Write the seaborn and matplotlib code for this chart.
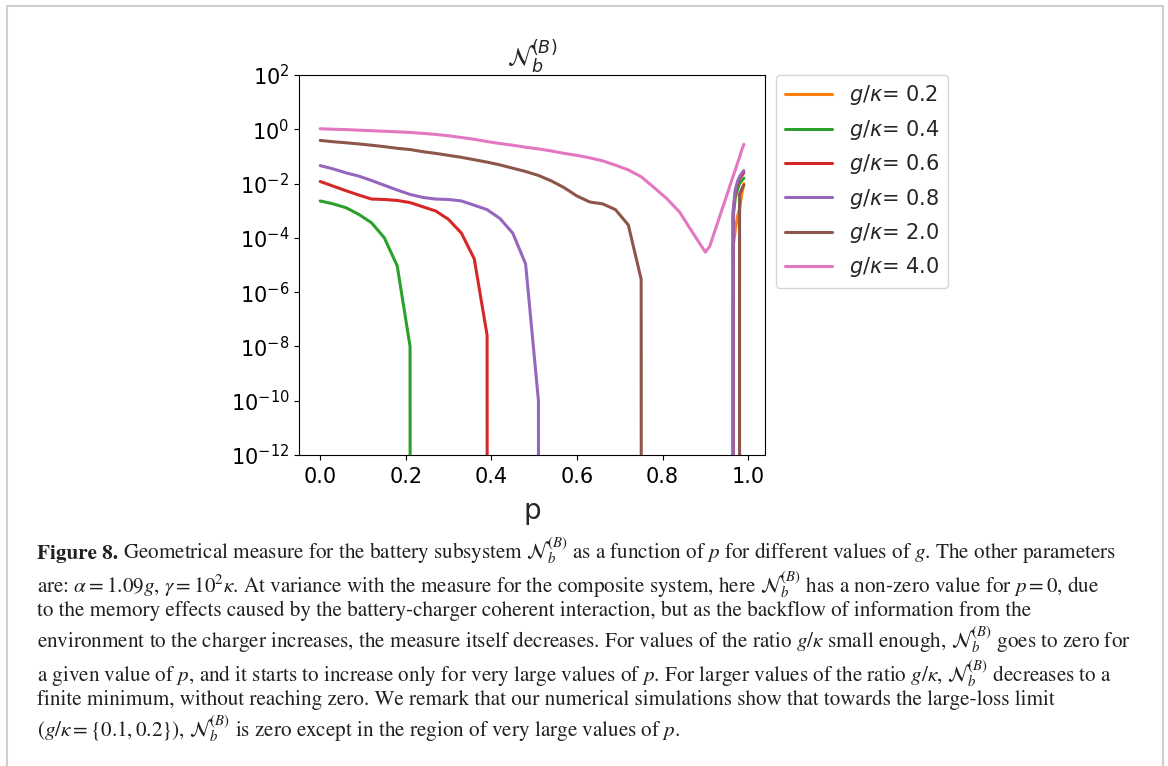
import numpy as np
import pandas as pd
import matplotlib
matplotlib.use("Agg")
import matplotlib.pyplot as plt
import matplotlib.patches as mpatches
from matplotlib.ticker import NullLocator
import seaborn as sns

# p grid (coarse, then finer near p -> 1)
p = [0.00, 0.03, 0.06, 0.09, 0.12, 0.15, 0.18, 0.21, 0.24, 0.27,
     0.30, 0.33, 0.36, 0.39, 0.42, 0.45, 0.48, 0.51, 0.54, 0.57,
     0.60, 0.63, 0.66, 0.69, 0.72, 0.75, 0.78, 0.81, 0.84, 0.87,
     0.90, 0.91, 0.93, 0.96, 0.965, 0.97, 0.975, 0.98, 0.985, 0.99]

# N_b^(B) (0 = exactly zero)
N_g02 = [0] * 34 + [5e-5, 2e-4, 6e-4, 1.2e-3, 4e-3, 1.0e-2]
N_g04 = [2.3e-3, 1.8e-3, 1.3e-3, 7.4e-4, 3.6e-4, 1.0e-4, 9.3e-6, 1.0e-8] + [0] * 26 + \
        [6e-4, 3e-3, 6e-3, 1e-2, 1.3e-2, 1.6e-2]
N_g06 = [1.2e-2, 8.1e-3, 5.5e-3, 3.8e-3, 2.7e-3, 2.6e-3, 2.4e-3, 2.0e-3, 1.4e-3, 9.8e-4,
         4.8e-4, 1.5e-4, 1.7e-5, 2.6e-8] + [0] * 20 + \
        [1e-3, 5e-3, 1e-2, 1.6e-2, 2e-2, 2.5e-2]
N_g08 = [4.6e-2, 3.5e-2, 2.5e-2, 1.9e-2, 1.3e-2, 8.7e-3, 5.8e-3, 4.0e-3, 3.1e-3, 2.7e-3,
         2.6e-3, 2.3e-3, 1.6e-3, 1.1e-3, 5.2e-4, 1.5e-4, 1.1e-5, 1.0e-10] + [0] * 16 + \
        [8e-4, 5.8e-3, 1.2e-2, 1.8e-2, 2.4e-2, 3.0e-2]
N_g20 = [0.39, 0.35, 0.32, 0.29, 0.26, 0.23, 0.20, 0.18, 0.15, 0.13,
         0.11, 0.093, 0.076, 0.062, 0.049, 0.037, 0.028, 0.020, 0.0126, 0.0071,
         0.0035, 0.0021, 0.0018, 0.0011, 3.0e-4, 3.0e-6] + [0] * 11 + \
        [4e-3, 6.3e-3, 8.9e-3]
N_g40 = [1.05, 1.01, 0.98, 0.93, 0.89, 0.85, 0.81, 0.77, 0.71, 0.65,
         0.58, 0.50, 0.43, 0.355, 0.30, 0.26, 0.22, 0.19, 0.16, 0.13,
         0.11, 0.089, 0.069, 0.048, 0.032, 0.018, 7.2e-3, 2.8e-3, 8.9e-4, 1.6e-4,
         3.0e-5, 4.8e-5, 4.2e-4, 1.1e-2, 1.9e-2, 3.2e-2, 5.6e-2, 9.5e-2, 0.17, 0.28]

ratios = ["0.2", "0.4", "0.6", "0.8", "2.0", "4.0"]
series = [N_g02, N_g04, N_g06, N_g08, N_g20, N_g40]
colors = ["#ff7f0e", "#2ca02c", "#d62728", "#9467bd", "#8c564b", "#e377c2"]

rows = []
for r, vals in zip(ratios, series):
    for x, v in zip(p, vals):
        rows.append({"p": x, "N": v, "label": r"$g/\kappa$= " + r})
df = pd.DataFrame(rows)

sns.set_style("ticks", rc={"axes.edgecolor": "black", "xtick.color": "black",
                           "ytick.color": "black", "axes.linewidth": 1.3,
                           "xtick.major.width": 1.3, "ytick.major.width": 1.3})
plt.rcParams["font.family"] = ["DejaVu Sans"]

fig = plt.figure(figsize=(11.68, 7.66), dpi=100)
ax = fig.add_axes([0.256, 0.406, 0.399, 0.496])
ax.set_yscale("log")

sns.lineplot(data=df, x="p", y="N", hue="label", palette=colors,
             estimator=None, lw=2.2, ax=ax)

ax.set_ylim(1e-12, 1e2)
ax.set_yticks([1e-12, 1e-10, 1e-8, 1e-6, 1e-4, 1e-2, 1e0, 1e2])
ax.yaxis.set_minor_locator(NullLocator())
ax.set_xticks([0.0, 0.2, 0.4, 0.6, 0.8, 1.0])
ax.tick_params(labelsize=15)
ax.tick_params(axis="x", pad=5)
ax.set_xlabel("p", fontsize=20, labelpad=7)
ax.set_ylabel("")
ax.set_title(r"$\mathcal{N}_b^{(B)}$", fontsize=18, pad=7)

handles, labs = ax.get_legend_handles_labels()
ax.legend(handles, labs, loc="upper left", bbox_to_anchor=(1.024, 1.0),
          borderaxespad=0, fontsize=15, handlelength=2.3, title=None)

# figure frame
fig.patches.append(mpatches.Rectangle((7 / 1168, -0.05), 1156 / 1168, 1 - 6 / 766 + 0.05,
                                      transform=fig.transFigure, fill=False,
                                      edgecolor="#cfcfcf", lw=1.5))

# caption
cap = dict(family="STIXGeneral", math_fontfamily="stix", fontsize=15.2,
           color="#231f20", va="baseline")
cap_lines = [
    r"Geometrical measure for the battery subsystem $\mathcal{N}_b^{(B)}$ as a function of $p$ for different values of $g$. The other parameters",
    r"are: $\alpha = 1.09g$, $\gamma = 10^2\kappa$. At variance with the measure for the composite system, here $\mathcal{N}_b^{(B)}$ has a non-zero value for $p = 0$, due",
    r"to the memory effects caused by the battery-charger coherent interaction, but as the backflow of information from the",
    r"environment to the charger increases, the measure itself decreases. For values of the ratio $g/\kappa$ small enough, $\mathcal{N}_b^{(B)}$ goes to zero for",
    r"a given value of $p$, and it starts to increase only for very large values of $p$. For larger values of the ratio $g/\kappa$, $\mathcal{N}_b^{(B)}$ decreases to a",
    r"finite minimum, without reaching zero. We remark that our numerical simulations show that towards the large-loss limit",
    r"$(g/\kappa = \{0.1, 0.2\})$, $\mathcal{N}_b^{(B)}$ is zero except in the region of very large values of $p$.",
]
baselines = [559, 593, 616, 648, 682, 705, 737]
x0 = 37 / 1168
renderer = fig.canvas.get_renderer()
fig8 = fig.text(x0, 1 - baselines[0] / 766, "Figure 8.", weight="bold", **cap)
w = fig8.get_window_extent(renderer).width
for i, (line, yb) in enumerate(zip(cap_lines, baselines)):
    x = x0 + (w + 5) / 1168 if i == 0 else x0
    fig.text(x, 1 - yb / 766, line, **cap)

fig.savefig("out.png", dpi=100)
